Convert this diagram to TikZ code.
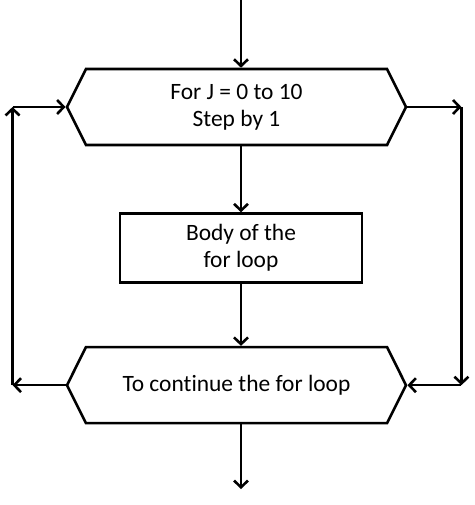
\documentclass[tikz,border=0pt]{standalone}
\usepackage{fontspec}
\setmainfont{Carlito}[Ligatures=NoCommon]
\usetikzlibrary{shapes.symbols, arrows.meta, positioning}

\begin{document}
\begin{tikzpicture}[
	node distance=1.98cm, % vertical gaps between the blocks
	block/.style={draw, rectangle, minimum width=7.26cm, minimum height=2.07cm, align=center, line width=2.2pt},
	hexblock/.style={draw, signal, signal to=west and east, signal pointer angle=127, minimum width=10.17cm, minimum height=2.28cm, align=center, line width=2.2pt},
	label_style/.style={font=\fontsize{20}{23}\selectfont},
	arrow/.style={-{Straight Barb[length=2mm, width=4.2mm, line width=2.2pt]}, line width=2.2pt}
	]
	\useasboundingbox (0,0) rectangle (14.22,-15.15);
	
	% --- Main column: loop header, body, continue check ---
	\node[hexblock, label_style] (for_top) at (7.095,-3.21) {For J = 0 to 10\\Step by 1};
	\node[block, label_style, below=of for_top, xshift=0.135cm] (loop_body) {Body of the\\for loop};
	\node[hexblock, label_style, below=1.86cm of loop_body, xshift=-0.135cm] (continue_bottom) {To continue the for loop};
	
	% free ends of the entry and exit arrows
	\coordinate (entry_in) at (loop_body |- 0,0);
	\coordinate (exit_out) at (loop_body |- 0,-14.67);
	
	% Arrows down the column
	\draw[arrow] (entry_in) -- (entry_in |- for_top.north);
	\draw[arrow] (for_top.south -| loop_body) -- (loop_body);
	\draw[arrow] (loop_body) -- (loop_body |- continue_bottom.north);
	\draw[arrow] (continue_bottom.south -| loop_body) -- (exit_out);
	
	% --- Side loops ---
	\coordinate[left=1.59cm of for_top.west] (left_top);
	\coordinate[left=1.59cm of continue_bottom.west] (left_bottom);
	\coordinate[right=1.62cm of for_top.east] (right_top);
	\coordinate[right=1.62cm of continue_bottom.east] (right_bottom);
	
	\draw[arrow] (continue_bottom.west) -- (left_bottom);
	\draw[arrow] (left_bottom) -- (left_top);
	\draw[arrow] (left_top) -- (for_top.west);
	
	\draw[arrow] (for_top.east) -- (right_top);
	\draw[arrow] (right_top) -- (right_bottom);
	\draw[arrow] (right_bottom) -- (continue_bottom.east);
	
\end{tikzpicture}
\end{document}
